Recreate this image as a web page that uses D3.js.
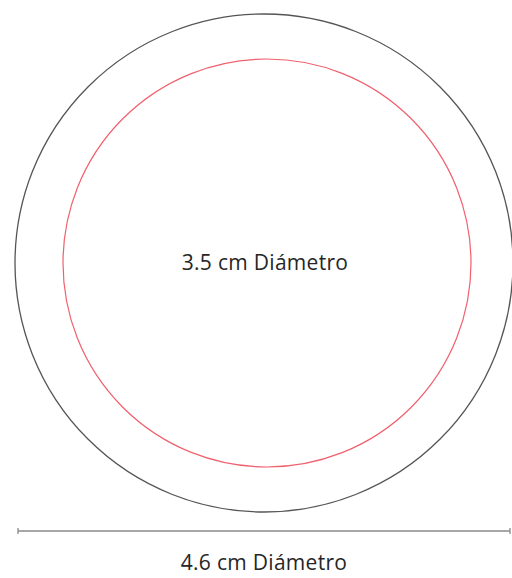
<!DOCTYPE html>
<html><head><meta charset="utf-8">
<script src="https://cdn.jsdelivr.net/npm/d3@7"></script>
<style>html,body{margin:0;padding:0;background:#fff;}svg{display:block;}</style>
</head><body>
<script>
const diameters = [4.6, 3.5];
const labels = ["4.6 cm Diámetro", "3.5 cm Diámetro"];
const strokeColors = ["#555555", "#f0606e"];

const W = 512, H = 578;
const svg = d3.select("body").append("svg").attr("width", W).attr("height", H);

// diameter (cm) -> radius (px), drawing is not to exact scale
const rScale = d3.scaleLinear().domain([3.5, 4.6]).range([204, 249]);
const centers = [[264, 263], [267, 263]];

svg.selectAll("circle.ring").data(diameters).join("circle")
  .attr("class", "ring")
  .attr("cx", (d, i) => centers[i][0])
  .attr("cy", (d, i) => centers[i][1])
  .attr("r", d => rScale(d))
  .attr("fill", "none")
  .attr("stroke", (d, i) => strokeColors[i])
  .attr("stroke-width", (d, i) => i === 0 ? 1.3 : 1.2);

// dimension line for the outer diameter
const x = d3.scaleLinear().domain([0, diameters[0]]).range([18, 510]);
const ly = 531;
svg.append("line").attr("x1", x(0)).attr("x2", x(diameters[0]))
  .attr("y1", ly).attr("y2", ly).attr("stroke", "#8a8a8a").attr("stroke-width", 1.3);
[0, diameters[0]].forEach(v => {
  svg.append("line").attr("x1", x(v)).attr("x2", x(v))
    .attr("y1", ly - 3).attr("y2", ly + 3).attr("stroke", "#8a8a8a").attr("stroke-width", 1.3);
});

const font = "'Open Sans', sans-serif";
svg.append("text").attr("x", 265).attr("y", 270)
  .attr("text-anchor", "middle").attr("font-family", font).attr("font-size", 21)
  .attr("fill", "#262626").attr("letter-spacing", 0.3).text(labels[1]);
svg.append("text").attr("x", 264).attr("y", 570)
  .attr("text-anchor", "middle").attr("font-family", font).attr("font-size", 21)
  .attr("fill", "#262626").attr("letter-spacing", 0.3).text(labels[0]);
</script>
</body></html>
